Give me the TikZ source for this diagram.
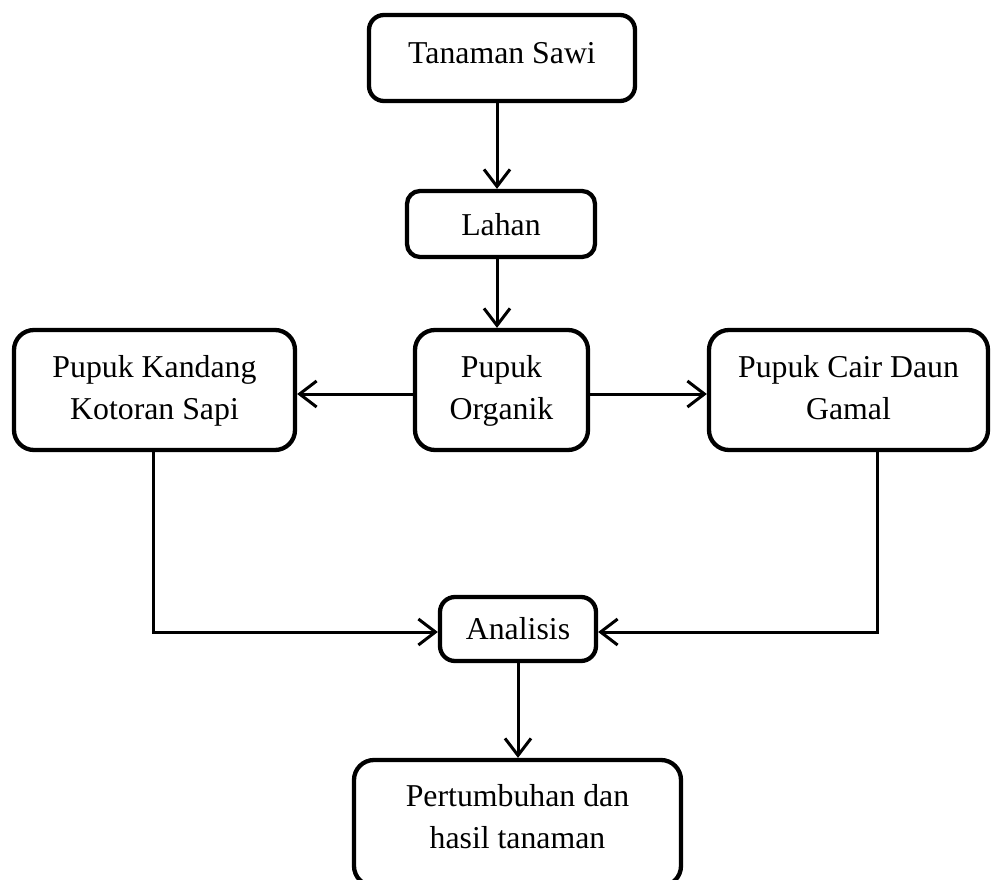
\documentclass[tikz,border=0pt]{standalone}
\usepackage{fontspec}
\setmainfont{Liberation Serif}
\usetikzlibrary{arrows.meta}
\newcommand\tx[1]{\begin{tabular}{@{}c@{}}#1\end{tabular}}
\begin{document}
\begin{tikzpicture}[x=1pt,y=-1pt,
  font=\fontsize{31.8}{42.5}\selectfont,
  box/.style={draw, line width=4.3pt, inner sep=0pt, fill=white},
  conn/.style={line width=3pt, -{Straight Barb[length=17pt,width=26pt]}},
  plain/.style={line width=3pt}]
\useasboundingbox (0,0) rectangle (996,880);
\coordinate (ax) at (497,0);
\coordinate (hy) at (0,394);
\coordinate (vy) at (0,632);
\coordinate (lx) at (153,0);
\coordinate (rx) at (877,0);
\coordinate (bx) at (518,0);

\node (sawi) [box, rounded corners=15pt, minimum width=266pt, minimum height=86pt] at (502,58)
  {\raisebox{2.5pt}[\height][\depth]{\tx{Tanaman Sawi}}};
\node (lahan) [box, rounded corners=13pt, minimum width=188pt, minimum height=66pt] at (501,224)
  {\raisebox{-3pt}[\height][\depth]{\tx{Lahan}}};
\node (organik) [box, rounded corners=20pt, minimum width=173pt, minimum height=120pt] at (501.5,390)
  {\tx{Pupuk\\Organik}};
\node (kandang) [box, rounded corners=20pt, minimum width=281pt, minimum height=120pt] at (154.5,390)
  {\tx{Pupuk Kandang\\Kotoran Sapi}};
\node (cair) [box, rounded corners=20pt, minimum width=279pt, minimum height=120pt] at (848.5,390)
  {\tx{Pupuk Cair Daun\\Gamal}};
\node (analisis) [box, rounded corners=15pt, minimum width=156pt, minimum height=64pt] at (518,629)
  {\raisebox{-2pt}[\height][\depth]{\tx{Analisis}}};
\node (hasil) [box, rounded corners=20pt, minimum width=327pt, minimum height=126pt] at (517.5,823)
  {\raisebox{4pt}[\height][\depth]{\tx{Pertumbuhan dan\\hasil tanaman}}};

\draw[conn] (sawi.south -| ax) -- (lahan.north -| ax);
\draw[conn] (lahan.south -| ax) -- (organik.north -| ax);
\draw[conn] (organik.west |- hy) -- (kandang.east |- hy);
\draw[conn] (organik.east |- hy) -- (cair.west |- hy);
\draw[conn] (kandang.south -| lx) |- (analisis.west |- vy);
\draw[conn] (cair.south -| rx) |- (analisis.east |- vy);
\draw[conn] (analisis.south -| bx) -- (hasil.north -| bx);
\end{tikzpicture}
\end{document}
